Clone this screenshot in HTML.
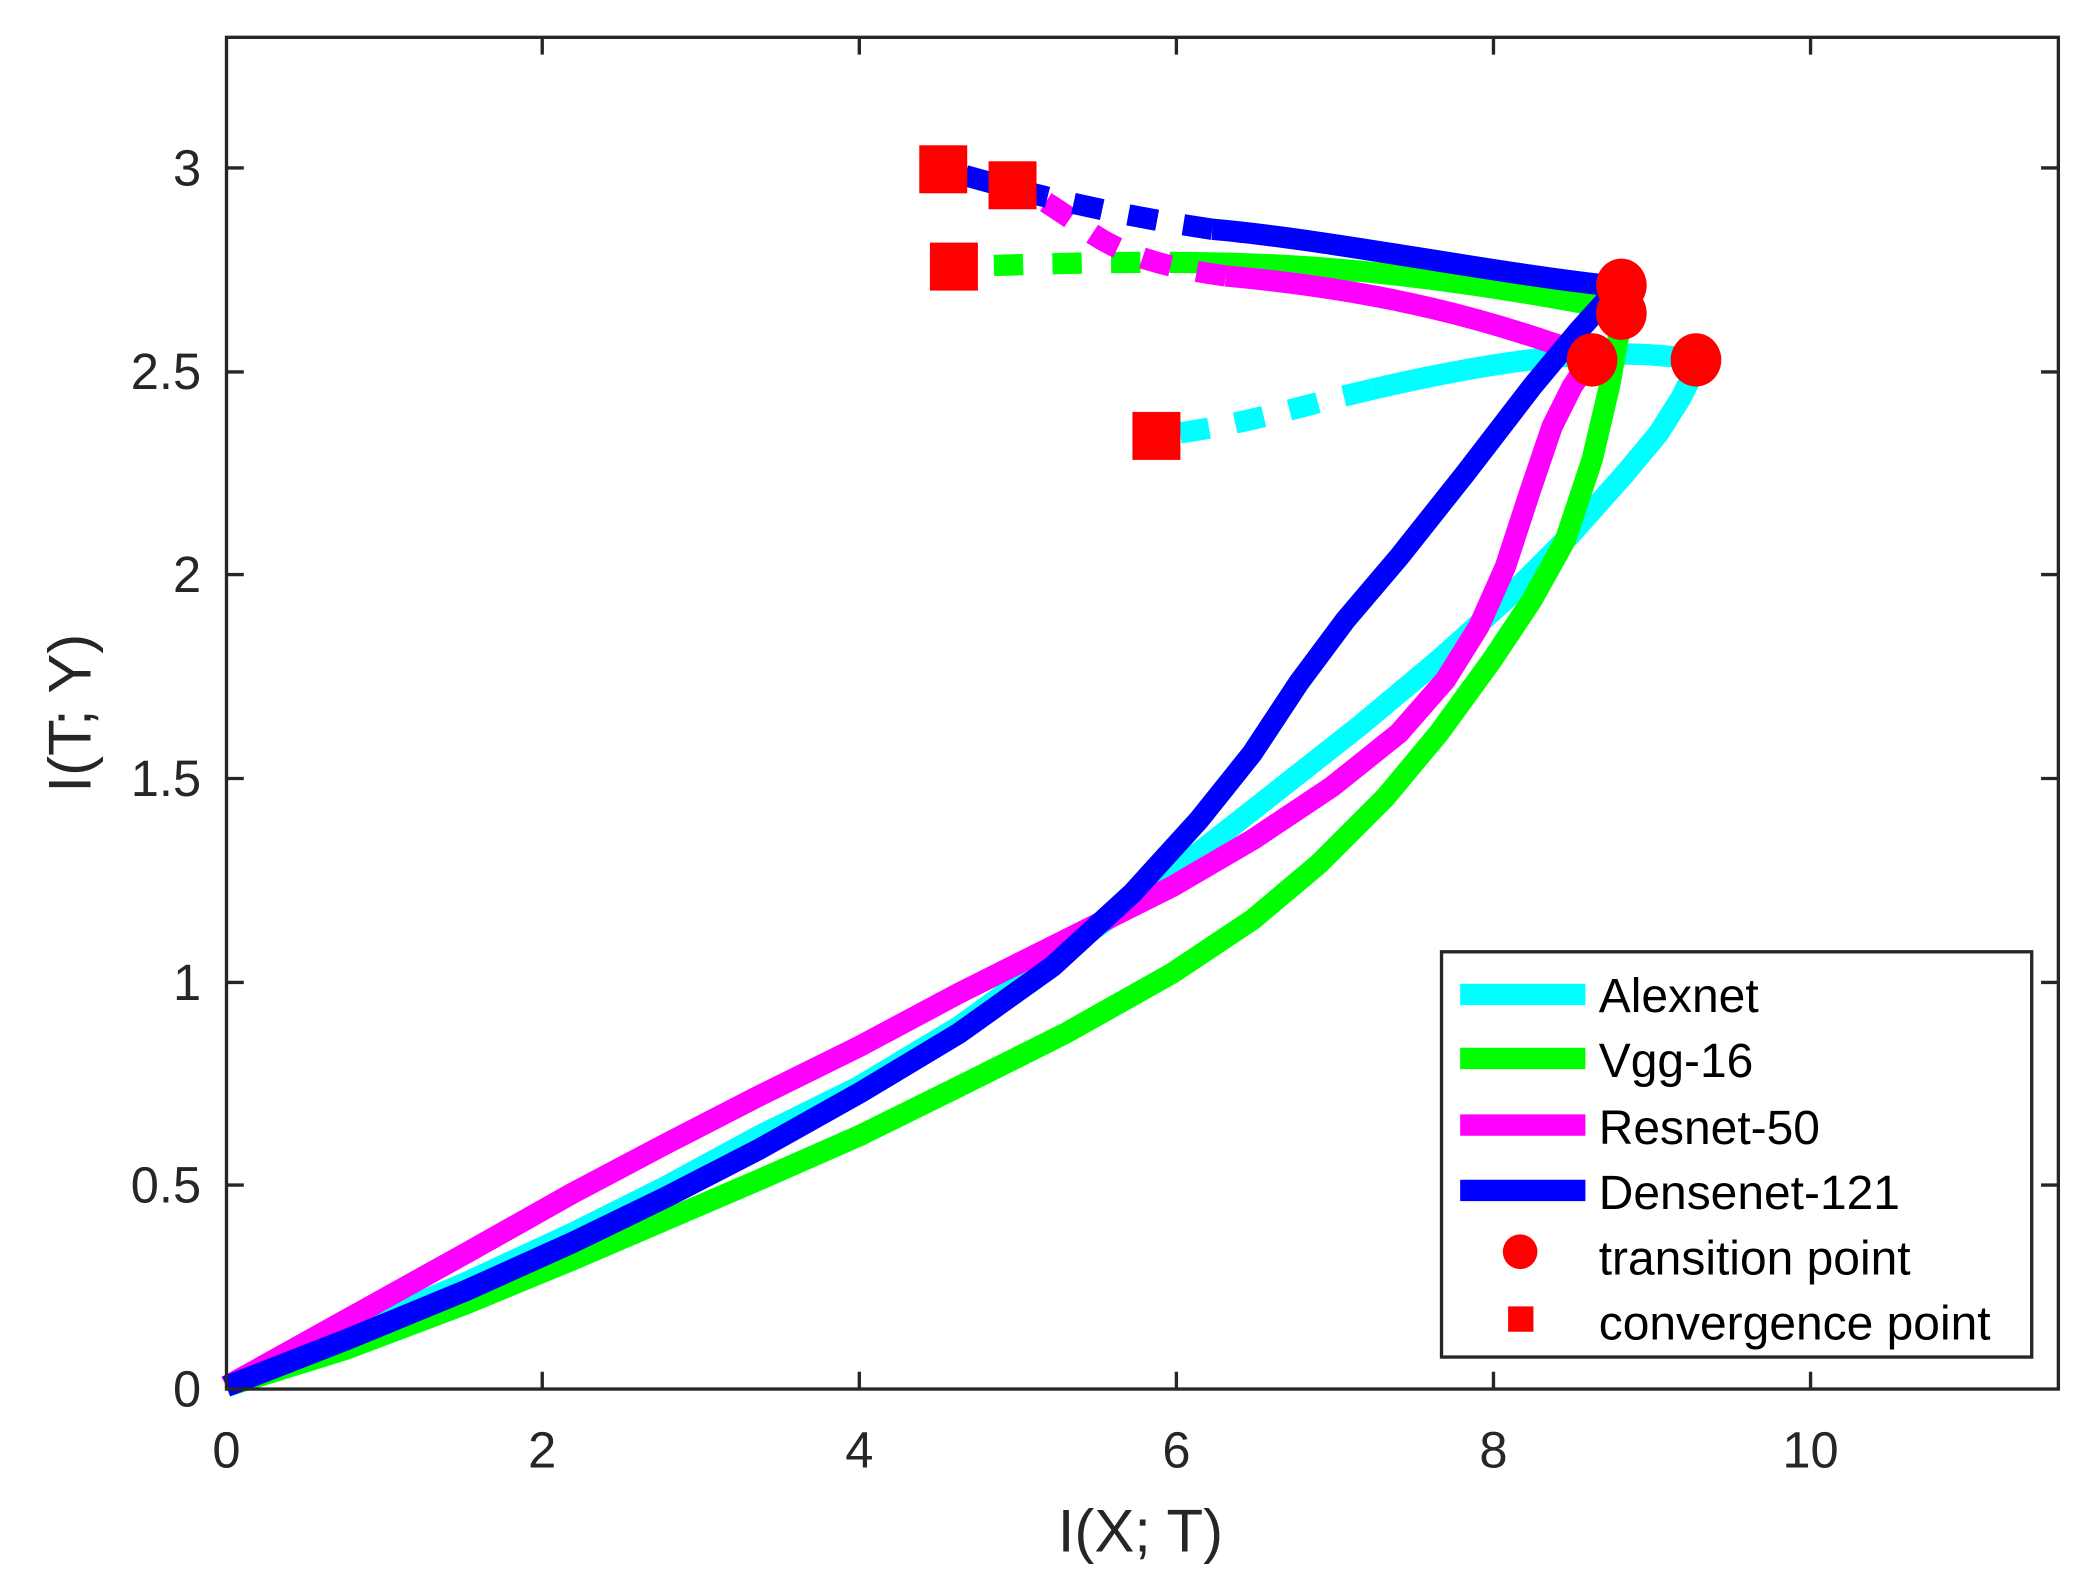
<!DOCTYPE html>
<html><head><meta charset="utf-8"><style>
html,body{margin:0;padding:0;background:#fff;}
svg{display:block;}
text{font-family:"Liberation Sans",sans-serif;}
</style></head><body>
<svg width="2089" height="1577" viewBox="0 0 1568 1183" preserveAspectRatio="none" xmlns="http://www.w3.org/2000/svg">
<rect width="1568" height="1183" fill="#fff"/>
<g fill="none" stroke-width="16" stroke-linejoin="round" stroke-linecap="butt">
<path stroke="#00ffff" d="M170,1040 L260,1000 L350,962 L430,925 L500,890 L570,852 L645,815 L720,770 L800,712 L880,655 L950,600 L1020,545 L1080,495 L1130,450 L1180,400 L1220,355 L1245,325 L1262,298 L1275,272"/>
<path stroke="#00ffff" d="M1275,270 C1220,262 1160,262 1030,292"/>
<path stroke="#00ffff" stroke-dasharray="22,20" d="M1030,292 C970,306 930,320 868,327"/>
<path stroke="#00ff00" d="M170,1040 L260,1012 L350,978 L430,945 L500,915 L570,885 L645,852 L720,815 L800,775 L880,730 L940,690 L990,648 L1040,598 L1080,550 L1120,495 L1150,450 L1175,405 L1195,345 L1208,290 L1218,235"/>
<path stroke="#00ff00" d="M1218,233 C1100,210 1000,198 900,197"/>
<path stroke="#00ff00" stroke-dasharray="22,22" d="M900,197 C820,196 760,199 716,200"/>
<path stroke="#ff00ff" d="M170,1040 L260,990 L350,940 L430,895 L500,858 L570,822 L645,785 L720,745 L800,705 L880,665 L940,630 L1000,590 L1050,550 L1085,510 L1110,470 L1130,425 L1148,370 L1165,320 L1180,290 L1195,268"/>
<path stroke="#ff00ff" d="M1195,268 C1120,240 1040,218 920,207"/>
<path stroke="#ff00ff" stroke-dasharray="22,20" d="M920,207 C870,200 840,190 815,172 S770,142 760,138"/>
<path stroke="#0000ff" d="M170,1040 L260,1005 L350,968 L430,932 L500,898 L570,862 L645,820 L720,775 L790,725 L850,670 L900,615 L940,565 L975,512 L1010,465 L1050,418 L1100,355 L1150,290 L1185,248 L1215,215"/>
<path stroke="#0000ff" d="M1215,215 C1120,205 1000,180 910,172"/>
<path stroke="#0000ff" stroke-dasharray="22,20" d="M910,172 C830,160 770,145 708,127"/>
</g>
<g fill="#ff0000">
<ellipse cx="1273" cy="270" rx="19" ry="20"/>
<ellipse cx="1195" cy="270" rx="19" ry="20"/>
<ellipse cx="1217" cy="214" rx="19" ry="20"/>
<ellipse cx="1217" cy="235" rx="19" ry="20"/>
<rect x="690" y="109" width="36" height="36"/>
<rect x="742" y="121" width="36" height="36"/>
<rect x="698" y="182" width="36" height="36"/>
<rect x="850" y="309" width="36" height="36"/>
</g>
<rect x="170" y="28" width="1375" height="1014" fill="none" stroke="#262626" stroke-width="2.5"/>
<g stroke="#262626" stroke-width="2.5">
<path d="M407,1042v-13M645,1042v-13M883,1042v-13M1121,1042v-13M1359,1042v-13"/>
<path d="M407,28v13M645,28v13M883,28v13M1121,28v13M1359,28v13"/>
<path d="M170,889h13M170,737h13M170,584h13M170,431h13M170,279h13M170,126h13"/>
<path d="M1545,889h-13M1545,737h-13M1545,584h-13M1545,431h-13M1545,279h-13M1545,126h-13"/>
</g>
<g fill="#262626" font-size="38" text-anchor="middle">
<text x="170" y="1101">0</text><text x="407" y="1101">2</text><text x="645" y="1101">4</text>
<text x="883" y="1101">6</text><text x="1121" y="1101">8</text><text x="1359" y="1101">10</text>
</g>
<g fill="#262626" font-size="38" text-anchor="end">
<text x="151" y="1055">0</text><text x="151" y="902">0.5</text><text x="151" y="750">1</text>
<text x="151" y="597">1.5</text><text x="151" y="444">2</text><text x="151" y="292">2.5</text><text x="151" y="139">3</text>
</g>
<text x="856" y="1164" font-size="45" fill="#262626" text-anchor="middle">I(X; T)</text>
<text transform="translate(68,535) rotate(-90)" font-size="45" fill="#262626" text-anchor="middle">I(T; Y)</text>
<rect x="1082" y="714" width="443" height="304" fill="#fff" stroke="#262626" stroke-width="2.5"/>
<g stroke-width="16">
<path stroke="#00ffff" d="M1096,746h94"/>
<path stroke="#00ff00" d="M1096,794h94"/>
<path stroke="#ff00ff" d="M1096,844h94"/>
<path stroke="#0000ff" d="M1096,893h94"/>
</g>
<ellipse cx="1141" cy="939" rx="13" ry="13" fill="#ff0000"/>
<rect x="1132" y="980" width="19" height="19" fill="#ff0000"/>
<g font-size="36" fill="#000">
<text x="1200" y="759">Alexnet</text>
<text x="1200" y="808">Vgg-16</text>
<text x="1200" y="858">Resnet-50</text>
<text x="1200" y="907">Densenet-121</text>
<text x="1200" y="956">transition point</text>
<text x="1200" y="1005">convergence point</text>
</g>
</svg>
</body></html>
